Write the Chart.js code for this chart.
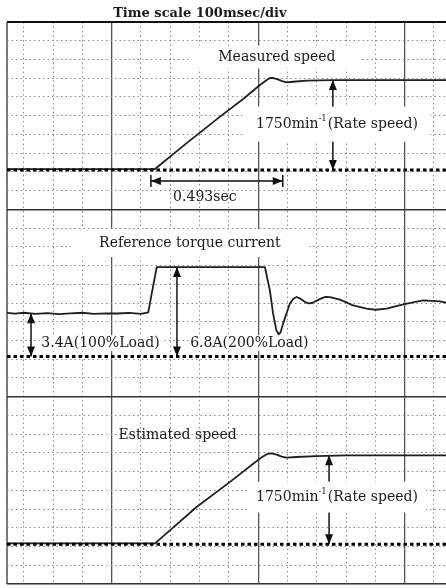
<!DOCTYPE html>
<html lang="en">
<head>
<meta charset="UTF-8">
<title>Speed and torque response</title>
<script src="https://cdn.jsdelivr.net/npm/chart.js@4.4.1/dist/chart.umd.min.js"></script>
<style>
  html, body { margin: 0; padding: 0; background: #fff; }
  #wrap { width: 446px; height: 588px; }
</style>
</head>
<body>
<div id="wrap"><canvas id="grafico" width="446" height="588"></canvas></div>
<script>
// time axis in ms (100 ms per minor division), t = 0 on a major line
const tempoMin = -357;
const tempoMax = 1141;
const ticksTempo = [-300, -200, -100, 0, 100, 200, 300, 400, 500, 600, 700, 800, 900, 1000, 1100];
// vertical axis in screen divisions, 10 per trace
const ticksDiv = [0, 1, 2, 3, 4, 5, 6, 7, 8, 9, 10, 11, 12, 13, 14, 15, 16, 17, 18, 19, 20, 21, 22, 23, 24, 25, 26, 27, 28, 29, 30];

// zero level of each trace (divisions)
const zeroVel = 22.1;
const zeroTorque = 12.15;
const zeroEst = 2.12;

// measured speed, divisions above its zero line
const velT = [-357, 148, 255, 370, 450, 506, 534, 543, 551, 559, 567, 582, 597, 619, 665, 755, 900, 1141];
const velV = [0.05, 0.05, 1.42, 2.85, 3.8, 4.54, 4.86, 4.92, 4.91, 4.88, 4.84, 4.74, 4.68, 4.71, 4.77, 4.8, 4.8, 4.8];

// reference torque current, divisions above its zero line
const torqueT = [-357, -330, -300, -260, -220, -180, -140, -100, -60, -20, 20, 60, 100, 125, 137, 154, 523, 540, 551, 562, 570, 577, 585, 608, 620, 631, 642, 660, 672, 684, 700, 716, 730, 745, 779, 824, 870, 900, 938, 995, 1063, 1120, 1141];
const torqueV = [2.32, 2.28, 2.33, 2.27, 2.31, 2.26, 2.3, 2.33, 2.27, 2.3, 2.29, 2.32, 2.27, 2.35, 3.36, 4.77, 4.77, 3.52, 2.28, 1.4, 1.18, 1.3, 1.75, 2.81, 3.08, 3.17, 3.1, 2.9, 2.83, 2.85, 2.98, 3.1, 3.18, 3.16, 3.03, 2.72, 2.55, 2.49, 2.55, 2.78, 2.99, 2.94, 2.87];

// estimated speed, divisions above its zero line
const estT = [-357, 148, 193, 290, 404, 506, 532, 545, 563, 580, 597, 631, 699, 800, 1141];
const estV = [0.05, 0.05, 0.66, 1.99, 3.33, 4.58, 4.83, 4.85, 4.79, 4.68, 4.63, 4.66, 4.71, 4.75, 4.75];

function serie(ts, vs, zero) {
  return ts.map(function (t, i) { return { x: t, y: zero + vs[i] }; });
}
function linhaZero(zero) {
  return [{ x: tempoMin, y: zero }, { x: tempoMax, y: zero }];
}

const fonte = '14px "DejaVu Serif", "Liberation Serif", serif';
const fonteTitulo = 'bold 13px "DejaVu Serif", "Liberation Serif", serif';
const fonteSup = '8.5px "DejaVu Serif", "Liberation Serif", serif';

const rotulos = [
  { texto: 'Time scale 100msec/div', t: 301, v: 30.43, negrito: true },
  { texto: 'Measured speed', t: 564, v: 28.13, caixa: [170, 23] },
  { texto: '1750min', sup: '-1', resto: '(Rate speed)', t: 769, v: 24.55, caixa: [187, 35] },
  { texto: '0.493sec', t: 318, v: 20.66 },
  { texto: 'Reference torque current', t: 267, v: 18.2, caixa: [238, 28] },
  { texto: '3.4A(100%Load)', t: -38, v: 12.86, caixa: [122, 16] },
  { texto: '6.8A(200%Load)', t: 470, v: 12.86, caixa: [122, 16] },
  { texto: 'Estimated speed', t: 225, v: 7.95 },
  { texto: '1750min', sup: '-1', resto: '(Rate speed)', t: 769, v: 4.64, caixa: [178, 31] }
];

const setas = [
  { t: 755, de: zeroVel, ate: zeroVel + 4.8 },
  { t: -275, de: zeroTorque, ate: zeroTorque + 2.3 },
  { t: 223, de: zeroTorque, ate: zeroTorque + 4.77 },
  { t: 742, de: zeroEst, ate: zeroEst + 4.75 }
];
const setaTempo = { v: 21.51, de: 134, ate: 584 };

function ponta(ctx, x, y, ang) {
  ctx.save();
  ctx.translate(x, y);
  ctx.rotate(ang);
  ctx.beginPath();
  ctx.moveTo(0, 0);
  ctx.lineTo(-10, -4);
  ctx.lineTo(-10, 4);
  ctx.closePath();
  ctx.fill();
  ctx.restore();
}

function setaDupla(ctx, x1, y1, x2, y2) {
  const ang = Math.atan2(y2 - y1, x2 - x1);
  ctx.beginPath();
  ctx.moveTo(x1, y1);
  ctx.lineTo(x2, y2);
  ctx.stroke();
  ponta(ctx, x2, y2, ang);
  ponta(ctx, x1, y1, ang + Math.PI);
}

function larguraRotulo(ctx, r) {
  ctx.font = r.negrito ? fonteTitulo : fonte;
  let w = ctx.measureText(r.texto).width;
  if (r.sup) {
    ctx.font = fonteSup;
    w += ctx.measureText(r.sup).width + 1;
    ctx.font = fonte;
    w += ctx.measureText(r.resto).width;
  }
  return w;
}

const anotacoes = {
  id: 'anotacoes',
  beforeDatasetsDraw(chart) {
    const ctx = chart.ctx;
    const x = chart.scales.x, y = chart.scales.y;
    ctx.save();
    ctx.strokeStyle = '#111';
    ctx.fillStyle = '#111';
    ctx.lineWidth = 1.5;
    setas.forEach(function (s) {
      const px = x.getPixelForValue(s.t);
      setaDupla(ctx, px, y.getPixelForValue(s.de), px, y.getPixelForValue(s.ate));
    });
    const py = y.getPixelForValue(setaTempo.v);
    const xa = x.getPixelForValue(setaTempo.de), xb = x.getPixelForValue(setaTempo.ate);
    setaDupla(ctx, xa, py, xb, py);
    ctx.beginPath();
    ctx.moveTo(xa, py - 6); ctx.lineTo(xa, py + 6);
    ctx.moveTo(xb, py - 6); ctx.lineTo(xb, py + 6);
    ctx.stroke();

    ctx.fillStyle = '#fff';
    rotulos.forEach(function (r) {
      if (!r.caixa) return;
      const cx = x.getPixelForValue(r.t), cy = y.getPixelForValue(r.v);
      ctx.fillRect(cx - r.caixa[0] / 2, cy - r.caixa[1] / 2, r.caixa[0], r.caixa[1]);
    });
    ctx.restore();
  },
  afterDatasetsDraw(chart) {
    const ctx = chart.ctx;
    const x = chart.scales.x, y = chart.scales.y;
    ctx.save();
    ctx.fillStyle = '#1a1a1a';
    ctx.textBaseline = 'middle';
    ctx.textAlign = 'left';
    rotulos.forEach(function (r) {
      const cx = x.getPixelForValue(r.t), cy = y.getPixelForValue(r.v);
      const w = larguraRotulo(ctx, r);
      let px = cx - w / 2;
      ctx.font = r.negrito ? fonteTitulo : fonte;
      ctx.fillText(r.texto, px, cy);
      if (r.sup) {
        px += ctx.measureText(r.texto).width;
        ctx.font = fonteSup;
        ctx.fillText(r.sup, px, cy - 5);
        px += ctx.measureText(r.sup).width + 1;
        ctx.font = fonte;
        ctx.fillText(r.resto, px, cy);
      }
    });
    ctx.restore();
  }
};

function ehMaiorX(c) { return c.tick && c.tick.value % 500 === 0; }
function ehMaiorY(c) { return c.tick && c.tick.value % 10 === 0; }

const tracoBase = {
  borderColor: '#1f1f1f',
  borderWidth: 1.8,
  pointRadius: 0,
  tension: 0,
  borderJoinStyle: 'round',
  order: 2
};
const zeroBase = {
  borderColor: '#000',
  borderWidth: 3,
  borderDash: [3.5, 3],
  pointRadius: 0,
  order: 1
};

new Chart(document.getElementById('grafico'), {
  type: 'line',
  data: {
    datasets: [
      Object.assign({ label: 'zero 1', data: linhaZero(zeroVel) }, zeroBase),
      Object.assign({ label: 'zero 2', data: linhaZero(zeroTorque) }, zeroBase),
      Object.assign({ label: 'zero 3', data: linhaZero(zeroEst) }, zeroBase),
      Object.assign({ label: 'Measured speed', data: serie(velT, velV, zeroVel) }, tracoBase),
      Object.assign({ label: 'Reference torque current', data: serie(torqueT, torqueV, zeroTorque) }, tracoBase),
      Object.assign({ label: 'Estimated speed', data: serie(estT, estV, zeroEst) }, tracoBase)
    ]
  },
  options: {
    responsive: false,
    animation: false,
    layout: { padding: { left: 7, top: 22, right: 0, bottom: 4 } },
    scales: {
      x: {
        type: 'linear',
        min: tempoMin,
        max: tempoMax,
        afterBuildTicks: function (s) {
          s.ticks = [tempoMin].concat(ticksTempo).map(function (v) { return { value: v }; });
        },
        ticks: { display: false },
        grid: {
          drawTicks: false,
          color: function (c) {
            if (c.tick && c.tick.value === tempoMin) return '#7a7a7a';
            return ehMaiorX(c) ? '#555' : '#8c8c8c';
          },
          lineWidth: function (c) {
            if (c.tick && c.tick.value === tempoMin) return 2;
            return ehMaiorX(c) ? 1.3 : 1;
          }
        },
        border: {
          display: false,
          dash: function (c) {
            if (c.tick && (c.tick.value === tempoMin || ehMaiorX(c))) return [];
            return [1.5, 3];
          }
        }
      },
      y: {
        type: 'linear',
        min: 0,
        max: 30,
        afterBuildTicks: function (s) {
          s.ticks = ticksDiv.map(function (v) { return { value: v }; });
        },
        ticks: { display: false },
        grid: {
          drawTicks: false,
          color: function (c) {
            if (c.tick && c.tick.value === 30) return '#111';
            return ehMaiorY(c) ? '#333' : '#8c8c8c';
          },
          lineWidth: function (c) {
            if (c.tick && c.tick.value === 30) return 2;
            return ehMaiorY(c) ? 1.5 : 1;
          }
        },
        border: {
          display: false,
          dash: function (c) {
            return ehMaiorY(c) ? [] : [1.5, 3];
          }
        }
      }
    },
    plugins: {
      legend: { display: false },
      tooltip: { enabled: false }
    }
  },
  plugins: [anotacoes]
});
</script>
</body>
</html>
